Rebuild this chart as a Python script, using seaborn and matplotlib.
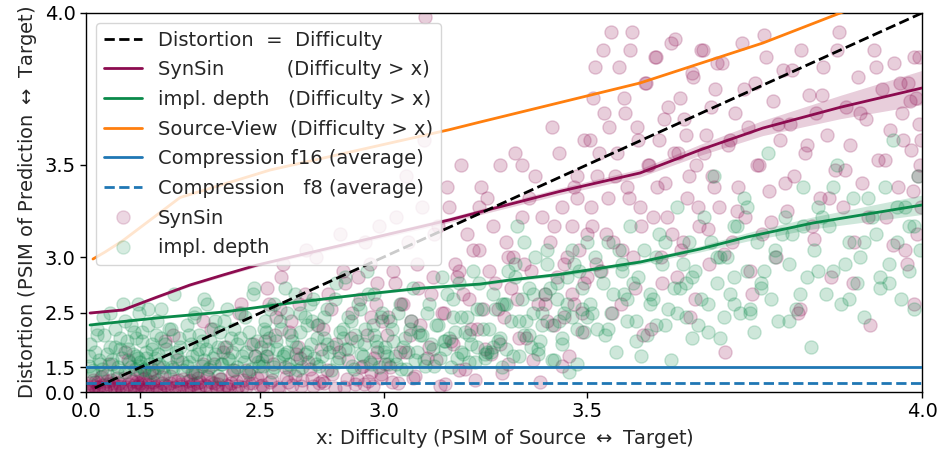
import numpy as np
import matplotlib
matplotlib.use("Agg")
import matplotlib.pyplot as plt
from matplotlib.lines import Line2D
import seaborn as sns

# ---------------- data ----------------
ticks = [0.0, 1.5, 2.5, 3.0, 3.5, 4.0]
tick_labels = ["0.0", "1.5", "2.5", "3.0", "3.5", "4.0"]

diag_x = [0.45, 4.0]

synsin_line_x = [0.23, 1.215, 1.714, 2.037, 2.281, 2.482, 3.19, 3.268, 3.446, 3.598, 3.698, 3.793, 3.899, 4.0]
synsin_line_y = [2.499, 2.534, 2.669, 2.781, 2.865, 2.942, 3.232, 3.276, 3.38, 3.465, 3.562, 3.646, 3.72, 3.784]
synsin_band = [0.012, 0.012, 0.012, 0.012, 0.012, 0.012, 0.014, 0.015, 0.016, 0.018, 0.022, 0.028, 0.04, 0.055]

depth_line_x = [0.23, 1.714, 2.281, 2.645, 2.911, 3.118, 3.268, 3.339, 3.446, 3.598, 3.698, 3.77, 3.863, 4.0]
depth_line_y = [2.349, 2.44, 2.51, 2.609, 2.689, 2.754, 2.789, 2.824, 2.87, 2.964, 3.055, 3.132, 3.215, 3.312]
depth_band = [0.01, 0.01, 0.01, 0.01, 0.01, 0.011, 0.012, 0.013, 0.014, 0.016, 0.02, 0.026, 0.034, 0.05]

source_line_x = [0.37, 0.8, 1.215, 1.95, 2.55, 3.19, 3.268, 3.598, 3.793, 3.899, 4.0]
source_line_y = [2.986, 3.035, 3.11, 3.35, 3.478, 3.64, 3.668, 3.80, 3.919, 4.0, 4.08]

comp_f16 = 1.5
comp_f8 = 0.8

synsin_x = [
    0.12, 0.2, 0.28, 0.35, 0.42, 0.5, 0.56, 0.62, 0.68, 0.74, 0.8, 0.86, 0.9, 0.95, 1.0, 1.05, 1.1, 1.15, 1.2, 1.25, 1.3, 1.35, 1.4, 1.45, 1.49,
    1.52, 1.56, 1.59, 1.62, 1.65, 1.68, 1.71, 1.74, 1.77, 1.8, 1.82, 1.85, 1.87, 1.9, 1.92, 1.94, 1.96, 1.98,
    2.02, 2.04, 2.06, 2.08, 2.1, 2.12, 2.14, 2.16, 2.18, 2.2, 2.22, 2.24, 2.26, 2.28, 2.3, 2.32, 2.34, 2.36, 2.38, 2.4, 2.42, 2.44, 2.46, 2.48, 2.5,
    2.51, 2.53, 2.545, 2.56, 2.575, 2.59, 2.605, 2.62, 2.635, 2.65, 2.665, 2.68, 2.695, 2.71, 2.725, 2.74, 2.755, 2.77, 2.785, 2.8, 2.815, 2.83, 2.845, 2.86, 2.875, 2.89, 2.905, 2.92, 2.93, 2.94, 2.95, 2.96, 2.97, 2.98, 2.99,
    3.01, 3.02, 3.03, 3.045, 3.055, 3.065, 3.075, 3.085, 3.095, 3.105, 3.115, 3.125, 3.135, 3.145, 3.155, 3.16,
    3.165, 3.175, 3.185, 3.195, 3.205, 3.215, 3.225, 3.235, 3.245, 3.255, 3.265, 3.275, 3.285, 3.295, 3.305, 3.315,
    3.325, 3.335, 3.345, 3.355, 3.365, 3.375, 3.385, 3.395, 3.405, 3.415, 3.425, 3.435, 3.445, 3.455, 3.465,
    3.47, 3.475, 3.48, 3.485, 3.49, 3.495, 3.5, 3.45,
    3.505, 3.51, 3.515, 3.52, 3.527, 3.533, 3.54, 3.545, 3.55, 3.557,
    3.563, 3.57, 3.575, 3.58, 3.586, 3.592, 3.598, 3.603, 3.608, 3.614,
    3.62, 3.625, 3.63, 3.636, 3.641, 3.646, 3.652, 3.657, 3.662, 3.667,
    3.672, 3.677, 3.682, 3.687, 3.692, 3.697, 3.702, 3.707, 3.712, 3.717,
    3.722, 3.727, 3.732, 3.737, 3.742, 3.747, 3.752, 3.757, 3.762, 3.767,
    3.772, 3.777, 3.782, 3.787, 3.792, 3.797, 3.802, 3.807, 3.812, 3.817,
    3.822, 3.827, 3.832, 3.837, 3.842, 3.847, 3.852, 3.857, 3.862, 3.867,
    3.872, 3.877, 3.882, 3.887, 3.892, 3.897, 3.902, 3.907, 3.912, 3.917,
    3.922, 3.927, 3.932, 3.937, 3.942, 3.947, 3.952, 3.957, 3.962, 3.967,
    3.972, 3.976, 3.98, 3.984, 3.987, 3.99, 3.993, 3.995, 3.997, 3.999,
]
synsin_y = [
    0.45, 0.8, 0.3, 1.0, 0.6, 0.25, 0.9, 0.5, 1.15, 0.7, 0.35, 0.95, 1.6, 0.55, 0.85, 0.4, 1.1, 0.65, 0.3, 1.9, 0.75, 1.05, 0.5, 0.9, 1.35,
    0.7, 1.1, 0.4, 0.9, 1.45, 0.55, 1.0, 0.3, 0.8, 2.1, 0.6, 1.2, 0.45, 0.95, 1.7, 0.35, 0.75, 1.05,
    0.5, 1.0, 0.75, 1.3, 0.4, 0.9, 1.6, 0.6, 1.15, 2.3, 0.8, 0.45, 1.05, 1.9, 0.7, 0.35, 1.25, 0.95, 2.5, 0.55, 1.4, 0.85, 2.05, 1.1, 0.65,
    0.7, 1.8, 2.6, 1.0, 2.2, 0.5, 2.85, 1.5, 0.9, 2.4, 1.2, 2.0, 0.6, 2.7, 1.65, 1.1, 3.0, 0.8, 2.3, 1.4, 2.55, 0.45, 1.9, 2.9, 1.05, 2.15, 0.75, 2.65, 1.55, 3.1, 0.95, 2.45, 1.75, 2.8, 1.25,
    2.2, 1.5, 2.9, 0.8, 2.6, 1.9, 3.1, 2.4, 1.2, 2.75,
    3.3, 3.99, 2.0, 2.85, 1.7, 3.2, 0.6, 2.5, 3.4, 2.1,
    2.95, 1.4, 2.7, 3.15, 2.3, 1.0, 3.05, 2.55, 3.35, 1.85,
    2.8, 3.5, 2.45, 1.6, 3.0, 2.65, 3.25, 2.15, 2.9, 3.45,
    0.9, 2.7, 3.1, 2.35, 3.55, 2.95, 1.8, 3.2, 2.6, 3.35,
    3.05, 2.5, 3.6, 2.85, 3.3,
    3.6, 3.2, 3.85, 3.45, 2.9, 3.7, 3.35, 3.95, 3.1, 3.55,
    2.6, 3.75, 3.4, 3.9, 3.0, 3.65, 3.3, 2.2, 3.8, 3.5,
    3.25, 3.88, 3.6, 2.8, 3.42, 3.72, 3.15, 3.93, 3.55, 3.05,
    3.68, 3.35, 2.45, 3.82, 3.5, 3.2, 3.9, 3.62, 2.95, 3.45,
    3.78, 3.3, 3.86, 1.9, 3.58, 3.1, 3.7, 3.4, 3.92, 3.25,
    3.65, 2.7, 3.8, 3.5, 3.15, 3.88, 3.38, 3.74, 3.0, 3.6,
    3.84, 3.28, 3.66, 3.45, 2.5, 3.9, 3.55, 3.76, 3.2, 3.7,
    3.35, 3.85, 3.62, 2.85, 3.48, 3.95, 3.3, 3.72, 3.58, 3.1,
    3.82, 3.42, 3.68, 2.35, 3.9, 3.52, 3.78, 3.25, 3.64, 3.86,
    3.4, 3.7, 3.05, 3.8, 3.56, 2.6, 3.75, 3.45, 3.88, 3.6,
]

synsin_x2 = [
    0.1, 0.3, 0.45, 0.58, 0.7, 0.8, 0.88, 0.96, 1.03, 1.09, 1.14, 1.19, 1.23, 1.27, 1.31, 1.34, 1.37, 1.4, 1.43, 1.45, 1.47, 1.49,
    1.51, 1.54, 1.57, 1.6, 1.62, 1.65, 1.67, 1.7, 1.72, 1.75, 1.77, 1.8, 1.83, 1.85, 1.88, 1.9, 1.93, 1.96,
    2.0, 2.02, 2.04, 2.055, 2.07, 2.09, 2.1, 2.12, 2.14, 2.155, 2.17, 2.19, 2.2, 2.22, 2.235, 2.25, 2.27, 2.28, 2.3, 2.315,
    2.33, 2.345, 2.36, 2.375, 2.39, 2.405, 2.42, 2.44, 2.455, 2.47,
    2.505, 2.515, 2.525, 2.535, 2.55, 2.565, 2.58, 2.595, 2.61, 2.625, 2.64, 2.655, 2.67, 2.685, 2.7, 2.715, 2.73, 2.745, 2.76, 2.775,
    2.79, 2.805, 2.82, 2.835, 2.85, 2.865, 2.88, 2.895, 2.91, 2.915, 2.925, 2.935, 2.945, 2.955, 2.96, 2.965, 2.975, 2.98, 2.985, 2.99,
    2.995, 2.87, 2.78, 2.69, 2.6,
    3.005, 3.015, 3.025, 3.035, 3.04, 3.05, 3.06, 3.07, 3.08, 3.09, 3.1, 3.11, 3.12, 3.13, 3.14, 3.15, 3.17, 3.18, 3.19, 3.2,
    3.21, 3.22, 3.23, 3.24, 3.25, 3.26, 3.27, 3.28, 3.29, 3.3, 3.31, 3.32, 3.33, 3.34, 3.35, 3.36, 3.37, 3.38, 3.39, 3.4,
    3.41, 3.42, 3.43, 3.44, 3.45, 3.46, 3.47, 3.48, 3.49, 3.5, 3.215, 3.265, 3.315, 3.365, 3.415, 3.435, 3.455, 3.475, 3.495, 3.335,
    3.508, 3.512, 3.518, 3.524, 3.53, 3.536, 3.542, 3.548, 3.553, 3.56,
    3.566, 3.572, 3.578, 3.583, 3.589, 3.595, 3.6, 3.606, 3.611, 3.617,
    3.623, 3.628, 3.634, 3.639, 3.644, 3.65, 3.655, 3.66, 3.665, 3.67,
    3.675, 3.68, 3.685, 3.69, 3.695, 3.7, 3.705, 3.71, 3.715, 3.72,
    3.725, 3.735, 3.745, 3.755, 3.765, 3.775, 3.785, 3.795, 3.805, 3.815,
    3.825, 3.835, 3.845, 3.855, 3.865, 3.875, 3.885, 3.895, 3.905, 3.915,
    3.925, 3.935, 3.945, 3.955, 3.965, 3.974, 3.978, 3.982, 3.986, 3.989,
    3.991, 3.994, 3.996, 3.998, 3.9985,
]
synsin_y2 = [
    0.6, 0.35, 0.9, 0.5, 1.2, 0.3, 0.75, 1.0, 0.45, 0.65, 0.85, 0.25, 1.1, 0.55, 1.7, 0.4, 0.95, 0.7, 0.3, 1.25, 0.6, 0.8,
    0.5, 1.05, 0.35, 0.75, 1.3, 0.45, 0.9, 0.6, 1.5, 0.3, 1.15, 0.7, 0.4, 0.85, 2.2, 0.55, 1.0, 0.65,
    0.4, 0.95, 0.6, 1.35, 0.3, 0.8, 1.1, 0.5, 2.4, 0.7, 1.2, 0.35, 0.9, 1.6, 0.55, 0.75, 1.05, 0.45, 2.0, 0.65,
    0.85, 1.4, 0.3, 0.6, 2.6, 1.0, 0.5, 1.25, 0.8, 1.8,
    1.3, 0.55, 2.1, 2.75, 0.9, 1.6, 2.45, 0.4, 2.95, 1.15, 2.25, 0.7, 1.85, 2.6, 1.0, 3.05, 1.45, 0.6, 2.35, 1.95,
    0.85, 2.7, 1.25, 2.05, 3.15, 0.5, 1.7, 2.5, 1.05, 2.85, 1.5, 0.75, 2.2, 2.95, 1.35, 0.65, 2.6, 1.9, 3.2, 1.1,
    2.4, 2.8, 0.95, 1.75, 2.55,
    1.6, 2.45, 0.9, 2.8, 3.25, 1.9, 2.6, 3.45, 2.2, 1.1, 2.95, 2.35, 3.6, 1.75, 2.7, 3.15, 2.5, 0.75, 3.3, 2.05,
    2.85, 3.5, 1.45, 2.65, 3.05, 2.3, 3.4, 1.95, 2.9, 3.2, 2.55, 1.3, 3.1, 2.75, 3.55, 2.15, 2.95, 3.35, 1.7, 2.6,
    3.25, 2.4, 3.65, 2.85, 1.55, 3.0, 2.7, 3.45, 2.25, 3.15, 2.9, 3.3, 2.05, 3.5, 2.6, 3.2, 2.45, 3.4, 2.8, 3.0,
    3.3, 3.75, 2.95, 3.55, 3.9, 3.15, 3.65, 2.5, 3.45, 3.85,
    3.05, 3.7, 3.35, 3.95, 2.75, 3.6, 3.2, 3.8, 3.5, 2.3,
    3.88, 3.4, 3.0, 3.68, 3.25, 3.92, 3.55, 2.85, 3.75, 3.1,
    3.62, 3.45, 3.83, 2.65, 3.3, 3.9, 3.55, 3.18, 3.72, 3.4,
    3.86, 3.02, 3.6, 3.28, 3.78, 2.9, 3.5, 3.94, 3.22, 3.66,
    3.42, 3.84, 2.55, 3.58, 3.12, 3.76, 3.35, 3.9, 3.48, 2.8,
    3.7, 3.25, 3.85, 3.52, 3.08, 3.8, 3.6, 2.95, 3.74, 3.38,
    3.88, 3.15, 3.66, 3.5, 3.3,
]

depth_x = [
    0.15, 0.25, 0.35, 0.45, 0.55, 0.62, 0.70, 0.78, 0.85, 0.92, 0.98, 1.05, 1.10, 1.16, 1.20, 1.25, 1.30, 1.35, 1.40, 1.44, 1.47, 1.50,
    1.52, 1.55, 1.58, 1.60, 1.63, 1.66, 1.68, 1.70, 1.73, 1.76, 1.78, 1.80, 1.83, 1.86, 1.88, 1.91, 1.94, 1.97,
    2.01, 2.03, 2.05, 2.07, 2.09, 2.11, 2.13, 2.15, 2.17, 2.19, 2.21, 2.23, 2.25, 2.27, 2.29, 2.31, 2.33, 2.35, 2.37, 2.39, 2.41, 2.42, 2.44, 2.45, 2.46, 2.47, 2.48, 2.49,
    2.51, 2.52, 2.54, 2.55, 2.57, 2.58, 2.60, 2.61, 2.62, 2.64, 2.65, 2.67, 2.68, 2.69, 2.71, 2.72, 2.73, 2.75, 2.76, 2.77,
    2.79, 2.80, 2.81, 2.83, 2.84, 2.85, 2.87, 2.88, 2.89, 2.90, 2.91, 2.92, 2.93, 2.94, 2.95, 2.96, 2.97, 2.98, 2.99, 3.00,
    3.01, 3.02, 3.03, 3.04, 3.05, 3.06, 3.07, 3.08, 3.09, 3.10, 3.11, 3.12, 3.13, 3.14, 3.15, 3.16, 3.17, 3.18, 3.19, 3.20,
    3.21, 3.22, 3.23, 3.24, 3.25, 3.26, 3.27, 3.28, 3.29, 3.30, 3.31, 3.32, 3.33, 3.34, 3.35, 3.36, 3.37, 3.38, 3.39, 3.40,
    3.41, 3.42, 3.43, 3.44, 3.45, 3.46, 3.47, 3.48, 3.49, 3.50, 3.105, 3.215, 3.285, 3.325, 3.355, 3.385, 3.415, 3.445, 3.465, 3.485,
    3.505, 3.515, 3.52, 3.53, 3.54, 3.545, 3.555, 3.565, 3.57, 3.58,
    3.59, 3.595, 3.605, 3.61, 3.62, 3.63, 3.635, 3.645, 3.65, 3.66,
    3.665, 3.675, 3.68, 3.69, 3.695, 3.705, 3.71, 3.72, 3.725, 3.73,
    3.74, 3.745, 3.75, 3.76, 3.765, 3.77, 3.78, 3.785, 3.79, 3.8,
    3.805, 3.81, 3.815, 3.825, 3.83, 3.835, 3.84, 3.85, 3.855, 3.86,
    3.865, 3.87, 3.88, 3.885, 3.89, 3.895, 3.9, 3.91, 3.915, 3.92,
    3.925, 3.93, 3.94, 3.945, 3.95, 3.955, 3.96, 3.965, 3.97, 3.975,
    3.98, 3.985, 3.99, 3.995, 3.998,
]
depth_y = [
    1.55, 2.05, 1.30, 1.90, 2.30, 1.70, 1.45, 2.20, 1.85, 2.50, 1.60, 2.00, 1.35, 2.15, 1.75, 2.40, 1.95, 1.50, 2.25, 1.80, 2.60, 1.65,
    2.10, 1.40, 1.75, 2.35, 1.60, 1.95, 1.30, 2.20, 1.85, 2.55, 1.50, 2.05, 1.70, 2.30, 1.45, 1.90, 2.15, 1.65,
    1.55, 2.20, 1.80, 2.45, 1.35, 1.95, 2.10, 1.70, 2.60, 1.50, 2.30, 1.85, 2.00, 1.60, 2.40, 1.75, 2.15, 1.40, 2.05, 2.50, 1.65, 1.90, 2.25, 1.45, 2.70, 1.80, 2.10, 1.55,
    1.70, 2.30, 1.95, 2.55, 1.50, 2.10, 2.40, 1.80, 2.75, 1.60, 2.20, 2.00, 1.40, 2.50, 1.85, 2.35, 2.60, 1.75, 2.15, 1.55,
    2.45, 2.05, 1.90, 2.65, 1.65, 2.25, 2.85, 1.95, 2.40, 1.45, 2.10, 2.55, 1.80, 2.30, 2.70, 1.60, 2.20, 2.00, 2.45, 1.90,
    1.8, 2.4, 2.1, 1.6, 2.6, 2.0, 1.45, 2.3, 2.75, 1.9, 2.2, 1.7, 2.5, 2.05, 1.55, 2.35, 2.85, 1.95, 2.15, 2.65,
    1.75, 2.45, 2.25, 1.65, 2.9, 2.0, 2.55, 1.85, 2.3, 2.7, 2.1, 1.5, 2.6, 2.4, 2.95, 1.8, 2.2, 2.75, 2.5, 1.95,
    2.35, 3.05, 1.7, 2.65, 2.15, 2.85, 2.45, 1.6, 2.55, 3.1, 2.25, 2.8, 1.9, 2.6, 3.2, 2.0, 2.7, 2.4, 1.35, 2.9,
    2.6, 3.0, 2.3, 2.8, 3.1, 2.5, 1.9, 2.9, 2.7, 3.2,
    2.4, 2.85, 3.05, 2.2, 2.65, 3.15, 2.95, 2.55, 1.7, 3.3,
    2.75, 2.45, 3.1, 2.9, 2.35, 3.25, 2.6, 3.45, 2.8, 2.15,
    3.0, 2.7, 3.2, 2.5, 3.35, 2.9, 2.25, 3.1, 2.8, 3.55,
    2.65, 3.0, 2.4, 3.25, 2.95, 3.15, 2.55, 3.4, 2.85, 2.0,
    3.05, 3.3, 2.7, 3.2, 2.9, 3.5, 2.6, 3.1, 3.35, 2.8,
    3.0, 2.45, 3.25, 3.15, 2.75, 3.4, 2.95, 3.6, 3.1, 2.65,
    3.3, 2.9, 3.2, 3.45, 3.05,
]

depth_x2 = [
    0.2, 0.38, 0.52, 0.64, 0.75, 0.84, 0.92, 0.99, 1.06, 1.11, 1.16, 1.21, 1.25, 1.29, 1.32, 1.36, 1.39, 1.42, 1.44, 1.46, 1.48, 1.5,
    1.53, 1.55, 1.58, 1.61, 1.64, 1.66, 1.69, 1.71, 1.74, 1.76, 1.79, 1.81, 1.84, 1.87, 1.89, 1.92, 1.95, 1.98,
    2.01, 2.03, 2.045, 2.06, 2.08, 2.095, 2.11, 2.13, 2.145, 2.16, 2.18, 2.195, 2.21, 2.23, 2.245, 2.26, 2.275, 2.29, 2.305, 2.32,
    2.34, 2.35, 2.37, 2.385, 2.4, 2.415, 2.43, 2.45, 2.465, 2.485,
    2.505, 2.515, 2.525, 2.535, 2.545, 2.56, 2.57, 2.585, 2.595, 2.605, 2.615, 2.63, 2.64, 2.655, 2.665, 2.675, 2.69, 2.7, 2.71, 2.72,
    2.735, 2.745, 2.755, 2.765, 2.78, 2.79, 2.8, 2.815, 2.825, 2.835, 2.845, 2.86, 2.87, 2.88, 2.895, 2.905, 2.915, 2.925, 2.935, 2.945,
    2.955, 2.965, 2.975, 2.985, 2.995, 2.53, 2.63, 2.74, 2.86, 2.97,
    3.005, 3.015, 3.025, 3.035, 3.045, 3.055, 3.065, 3.075, 3.085, 3.095, 3.115, 3.125, 3.135, 3.145, 3.155, 3.165, 3.175, 3.185, 3.195, 3.205,
    3.225, 3.235, 3.245, 3.255, 3.265, 3.275, 3.295, 3.305, 3.315, 3.335, 3.345, 3.365, 3.375, 3.395, 3.405, 3.425, 3.435, 3.455, 3.475, 3.495,
    3.32, 3.33, 3.35, 3.36, 3.37, 3.38, 3.39, 3.4, 3.41, 3.42, 3.43, 3.44, 3.45, 3.46, 3.47, 3.48, 3.49, 3.5,
    3.3, 3.28, 3.26, 3.24, 3.22, 3.2, 3.18,
    3.51, 3.525, 3.535, 3.55, 3.56, 3.575, 3.585, 3.6, 3.615, 3.625,
    3.64, 3.655, 3.67, 3.685, 3.7, 3.715, 3.735, 3.75, 3.755, 3.775,
    3.795, 3.82, 3.845, 3.875, 3.905, 3.935, 3.96, 3.985, 3.54, 3.565,
    3.59, 3.615, 3.64, 3.66, 3.685, 3.71, 3.73, 3.75, 3.77, 3.79,
    3.81, 3.83, 3.85, 3.87, 3.89, 3.91, 3.93, 3.95, 3.97, 3.99,
    3.575, 3.625, 3.675, 3.725, 3.775,
]
depth_y2 = [
    1.8, 1.4, 2.2, 1.6, 2.45, 1.25, 2.0, 1.7, 2.3, 1.5, 1.95, 2.6, 1.35, 2.1, 1.65, 2.35, 1.85, 1.45, 2.15, 1.75, 2.5, 1.55,
    2.25, 1.45, 1.9, 2.55, 1.35, 2.05, 1.75, 2.4, 1.6, 2.15, 1.25, 1.95, 2.3, 1.5, 2.7, 1.8, 2.0, 1.4,
    2.35, 1.65, 2.05, 1.3, 2.5, 1.85, 2.2, 1.55, 2.65, 1.95, 1.45, 2.1, 1.75, 2.4, 1.2, 2.25, 1.6, 2.0, 2.55, 1.7,
    1.9, 2.3, 1.5, 2.15, 1.8, 2.45, 1.35, 2.05, 2.75, 1.65,
    2.0, 1.55, 2.4, 1.8, 2.15, 1.35, 2.6, 1.95, 1.65, 2.3, 1.85, 2.5, 1.45, 2.1, 2.7, 1.7, 2.25, 1.5, 2.45, 1.9,
    2.05, 2.65, 1.6, 2.35, 1.8, 2.15, 2.55, 1.4, 2.0, 2.8, 1.75, 2.3, 1.95, 2.45, 1.55, 2.2, 2.6, 1.85, 2.05, 2.9,
    1.65, 2.35, 2.1, 1.5, 2.5, 2.25, 1.9, 2.4, 2.15, 2.7,
    2.0, 1.6, 2.3, 1.8, 2.5, 1.45, 2.15, 1.9, 2.4, 1.7, 2.2, 1.55, 2.6, 1.95, 2.35, 1.75, 2.1, 2.7, 1.5, 2.25,
    1.85, 2.45, 2.05, 1.65, 2.8, 2.3, 1.9, 2.55, 2.15, 2.9, 1.8, 2.65, 2.4, 3.0, 2.1, 2.75, 1.7, 2.5, 2.95, 2.25,
    2.6, 1.95, 2.85, 2.4, 3.1, 2.2, 2.7, 1.85, 2.5, 2.95, 2.35, 2.8, 2.05, 2.6, 3.05, 2.3, 2.75, 2.45,
    2.0, 1.75, 2.55, 2.2, 1.9, 2.45, 2.1,
    2.5, 2.9, 2.2, 2.7, 3.05, 2.4, 2.8, 1.8, 2.6, 3.0,
    2.35, 2.75, 2.95, 2.15, 2.65, 3.1, 2.45, 2.85, 3.2, 2.55,
    2.9, 3.15, 2.7, 3.25, 2.95, 3.35, 2.8, 3.2, 2.3, 2.95,
    2.1, 2.7, 3.1, 2.5, 2.85, 2.25, 3.0, 2.6, 3.3, 2.75,
    3.05, 2.4, 3.2, 2.9, 3.4, 2.65, 3.1, 2.85, 3.3, 2.55,
    2.65, 2.35, 2.8, 3.0, 2.5,
]

# ---------------- style ----------------
PURPLE = "#8c0b4f"
GREEN = "#0a8a4a"
ORANGE = "#ff7f0e"
BLUE = "#1f77b4"
FS = 14
ALPHA = 0.2

sns.set_style("ticks")
plt.rcParams["font.family"] = ["DejaVu Sans"]
plt.rcParams["axes.edgecolor"] = "black"
plt.rcParams["xtick.color"] = "black"
plt.rcParams["ytick.color"] = "black"

fig = plt.figure(figsize=(9.4, 4.57), dpi=100)
ax = fig.add_axes([86 / 940, 65 / 457, 836 / 940, 379 / 457])
ax.set_xscale("function", functions=(np.exp, np.log))
ax.set_yscale("function", functions=(np.exp, np.log))

sx = synsin_x + synsin_x2
sy = synsin_y + synsin_y2
dx = depth_x + depth_x2
dy = depth_y + depth_y2

# scatter clouds
sns.scatterplot(x=sx, y=sy, ax=ax, color=PURPLE, edgecolor=PURPLE,
                alpha=ALPHA, s=90, linewidth=1.0, zorder=1, legend=False)
sns.scatterplot(x=dx, y=dy, ax=ax, color=GREEN, edgecolor=GREEN,
                alpha=ALPHA, s=90, linewidth=1.0, zorder=1, legend=False)

# confidence bands
ax.fill_between(synsin_line_x, np.array(synsin_line_y) - np.array(synsin_band),
                np.array(synsin_line_y) + np.array(synsin_band), color=PURPLE, alpha=0.2, lw=0, zorder=2)
ax.fill_between(depth_line_x, np.array(depth_line_y) - np.array(depth_band),
                np.array(depth_line_y) + np.array(depth_band), color=GREEN, alpha=0.2, lw=0, zorder=2)

# lines
ax.plot(diag_x, diag_x, color="black", ls="--", lw=2.0, zorder=4)
sns.lineplot(x=synsin_line_x, y=synsin_line_y, ax=ax, color=PURPLE, lw=2.0, zorder=3, legend=False, sort=False)
sns.lineplot(x=depth_line_x, y=depth_line_y, ax=ax, color=GREEN, lw=2.0, zorder=3, legend=False, sort=False)
sns.lineplot(x=source_line_x, y=source_line_y, ax=ax, color=ORANGE, lw=2.0, zorder=3, legend=False, sort=False)
ax.axhline(comp_f16, color=BLUE, lw=2.0, zorder=3)
ax.axhline(comp_f8, color=BLUE, lw=2.0, ls="--", zorder=3)

ax.set_xlim(0, 4)
ax.set_ylim(0, 4)
ax.set_xticks(ticks)
ax.set_xticklabels(tick_labels)
ax.set_yticks(ticks)
ax.set_yticklabels(tick_labels)
ax.minorticks_off()
ax.tick_params(labelsize=FS, direction="out", length=4, width=1)
for sp in ax.spines.values():
    sp.set_visible(True)
    sp.set_linewidth(1.0)
    sp.set_color("black")

ax.set_xlabel(r"x: Difficulty (PSIM of Source $\leftrightarrow$ Target)", fontsize=FS)
ax.set_ylabel(r"Distortion (PSIM of Prediction $\leftrightarrow$ Target)", fontsize=FS)

handles = [
    Line2D([], [], color="black", ls="--", lw=2.0),
    Line2D([], [], color=PURPLE, lw=2.0),
    Line2D([], [], color=GREEN, lw=2.0),
    Line2D([], [], color=ORANGE, lw=2.0),
    Line2D([], [], color=BLUE, lw=2.0),
    Line2D([], [], color=BLUE, lw=2.0, ls="--"),
    Line2D([], [], ls="", marker="o", markersize=9.5, color=PURPLE, alpha=0.16),
    Line2D([], [], ls="", marker="o", markersize=9.5, color=GREEN, alpha=0.16),
]
labels = [
    "Distortion  =  Difficulty",
    "SynSin          (Difficulty > x)",
    "impl. depth   (Difficulty > x)",
    "Source-View  (Difficulty > x)",
    "Compression f16 (average)",
    "Compression   f8 (average)",
    "SynSin",
    "impl. depth",
]
leg = ax.legend(handles, labels, loc="upper left", fontsize=FS, labelspacing=0.55,
                framealpha=0.8, edgecolor="0.8", fancybox=True)
leg.set_zorder(10)

fig.savefig("out.png", dpi=100)
